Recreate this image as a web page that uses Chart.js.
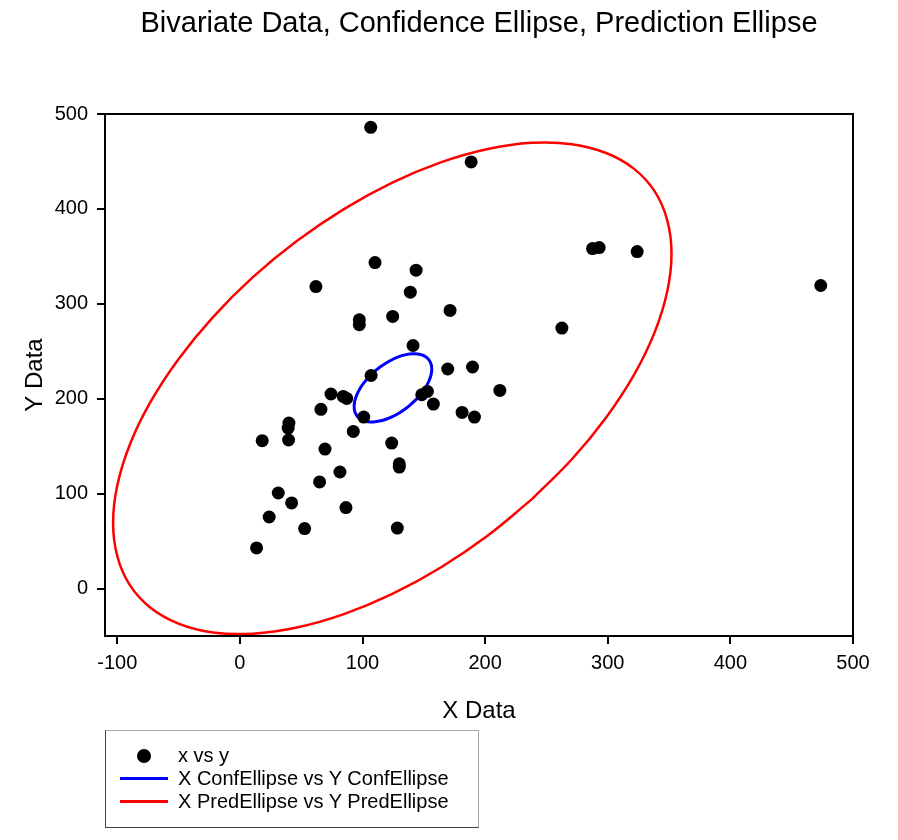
<!DOCTYPE html>
<html>
<head>
<meta charset="utf-8">
<script src="https://cdn.jsdelivr.net/npm/chart.js@4"></script>
<style>
  html, body { margin:0; padding:0; background:#fff; }
  #wrap { position:relative; width:898px; height:840px; }
  #c { position:absolute; left:0; top:0; }
  #legend { position:absolute; left:105px; top:730px; width:374px; height:98px; box-sizing:border-box;
    border-top:1px solid #a8a8a8; border-right:1px solid #a8a8a8; border-left:1px solid #404040; border-bottom:1px solid #404040;
    font-family:'Liberation Sans', Arial, sans-serif; font-size:20px; color:#000; }
  .row { position:absolute; left:0; height:23px; line-height:23px; white-space:nowrap; }
  .sym { position:absolute; left:14px; width:48px; height:23px; }
  .txt { position:absolute; left:72px; top:0; }
</style>
</head>
<body>
<div id="wrap">
  <canvas id="c" width="898" height="840"></canvas>
  <div id="legend"></div>
</div>
<script>
// ---- data ----
const xData = [106.7, 188.6, 287.6, 293.0, 324.0, 473.7, 110.2, 143.7, 62.0, 139.0, 97.4, 97.4, 124.6, 171.4, 262.6, 141.2,
  189.7, 169.5, 107.0, 74.3, 84.3, 87.1, 148.3, 152.9, 157.8, 212.0, 181.2, 191.3, 101.0, 66.1, 40.0, 39.4, 92.5, 18.2,
  39.7, 123.8, 69.4, 130.0, 130.0, 81.6, 65.0, 31.3, 42.2, 86.5, 23.9, 52.8, 128.4, 13.6];
const yData = [486.0, 449.5, 358.2, 359.3, 355.0, 319.3, 343.5, 335.4, 318.2, 312.3, 283.2, 278.0, 286.7, 293.0, 274.4, 256.1,
  233.4, 231.3, 224.5, 205.0, 202.4, 200.3, 204.2, 207.7, 194.4, 208.7, 185.6, 180.7, 180.7, 188.8, 174.4, 169.1, 165.6, 155.8,
  156.5, 153.3, 147.0, 131.5, 128.0, 122.8, 112.3, 100.7, 90.2, 85.3, 75.4, 63.2, 63.7, 42.8];

// confidence ellipse outline (blue), points traced around the curve
const confX = [140.6, 135.6, 130.3, 124.8, 119.3, 114.0, 109.0, 104.5, 100.6, 97.4, 95.1, 93.6, 93.2, 93.6, 95.1, 97.4,
  100.6, 104.5, 109.0, 114.0, 119.3, 124.8, 130.3, 135.6, 140.6, 145.1, 149.0, 152.2, 154.5, 156.0, 156.5, 156.0,
  154.5, 152.2, 149.0, 145.1, 140.6];
const confY = [195.3, 189.9, 185.3, 181.4, 178.4, 176.5, 175.6, 175.8, 177.0, 179.4, 182.7, 186.9, 191.8, 197.3, 203.3, 209.5,
  215.8, 221.9, 227.7, 233.1, 237.7, 241.6, 244.6, 246.5, 247.4, 247.2, 246.0, 243.6, 240.3, 236.1, 231.2, 225.7,
  219.7, 213.5, 207.2, 201.1, 195.3];

// prediction ellipse outline (red), points traced around the curve
const predX = [238.2, 202.2, 163.8, 124.3, 84.8, 46.4, 10.4, -22.1, -50.1, -72.9, -89.7, -99.9, -103.4, -99.9, -89.7, -72.9,
  -50.1, -22.1, 10.4, 46.4, 84.8, 124.3, 163.8, 202.2, 238.2, 270.7, 298.7, 321.5, 338.3, 348.5, 352.0, 348.5,
  338.3, 321.5, 298.7, 270.7, 238.2];
const predY = [94.2, 55.9, 22.2, -5.7, -27.0, -41.1, -47.6, -46.2, -36.9, -20.2, 3.6, 33.8, 69.2, 109.0, 151.8, 196.6,
  241.7, 285.8, 327.8, 366.1, 399.8, 427.7, 449.0, 463.1, 469.6, 468.2, 458.9, 442.2, 418.4, 388.2, 352.8, 313.0,
  270.2, 225.4, 180.3, 136.2, 94.2];

const xTicks = [-100, 0, 100, 200, 300, 400, 500];
const yTicks = [0, 100, 200, 300, 400, 500];

const seriesNames = ['x vs y', 'X ConfEllipse vs Y ConfEllipse', 'X PredEllipse vs Y PredEllipse'];
const chartTitle = 'Bivariate Data, Confidence Ellipse, Prediction Ellipse';

const pts = (xs, ys) => xs.map((x, i) => ({x: x, y: ys[i]}));
const FONT = "'Liberation Sans', Arial, sans-serif";

const framePlugin = {
  id: 'frame',
  afterDraw(chart) {
    const a = chart.chartArea, ctx = chart.ctx;
    ctx.save();
    ctx.strokeStyle = '#000';
    ctx.lineWidth = 2;
    ctx.strokeRect(a.left, a.top, a.right - a.left, a.bottom - a.top);
    ctx.restore();
  }
};

const chart = new Chart(document.getElementById('c'), {
  type: 'scatter',
  data: {
    datasets: [
      { label: seriesNames[0], data: pts(xData, yData), showLine: false,
        pointRadius: 6.5, pointBackgroundColor: '#000', pointBorderColor: '#000', pointBorderWidth: 0, order: 0 },
      { label: seriesNames[1], data: pts(confX, confY), showLine: true, tension: 0.4,
        borderColor: '#0000ff', borderWidth: 3, pointRadius: 0, fill: false, order: 1 },
      { label: seriesNames[2], data: pts(predX, predY), showLine: true, tension: 0.4,
        borderColor: '#ff0000', borderWidth: 2.5, pointRadius: 0, fill: false, order: 2 }
    ]
  },
  options: {
    responsive: false,
    animation: false,
    layout: { padding: { left: 0, right: 45, top: 0, bottom: 104 } },
    plugins: {
      legend: { display: false },
      tooltip: { enabled: false },
      title: { display: true, fullSize: false, text: chartTitle, color: '#000',
        font: { family: FONT, size: 29, weight: 'normal' }, padding: { top: 7, bottom: 72.2 } }
    },
    scales: {
      x: {
        type: 'linear', position: 'bottom', min: -110, max: 500,
        afterBuildTicks: s => { s.ticks = xTicks.map(v => ({ value: v })); },
        afterFit: s => { s.height = 100; },
        grid: { drawOnChartArea: false, drawTicks: true, tickLength: 8, color: '#000', lineWidth: 2 },
        border: { display: true, color: '#000', width: 2 },
        ticks: { color: '#000', font: { family: FONT, size: 20 }, padding: 7, maxRotation: 0 },
        title: { display: true, text: 'X Data', color: '#000', font: { family: FONT, size: 24 }, padding: { top: 0, bottom: 10.6 } }
      },
      y: {
        type: 'linear', position: 'left', min: -50, max: 500,
        afterBuildTicks: s => { s.ticks = yTicks.map(v => ({ value: v })); },
        afterFit: s => { s.width = 105; },
        grid: { drawOnChartArea: false, drawTicks: true, tickLength: 8, color: '#000', lineWidth: 2 },
        border: { display: true, color: '#000', width: 2 },
        ticks: { color: '#000', font: { family: FONT, size: 20 }, padding: 9 },
        title: { display: true, text: 'Y Data', color: '#000', font: { family: FONT, size: 24 }, padding: { top: 20.6, bottom: 0 } }
      }
    }
  },
  plugins: [framePlugin]
});

// HTML legend built from the chart's datasets
const lg = document.getElementById('legend');
chart.data.datasets.forEach((ds, i) => {
  const row = document.createElement('div');
  row.className = 'row';
  row.style.top = (13 + i * 23) + 'px';
  const sym = document.createElement('div');
  sym.className = 'sym';
  if (i === 0) {
    const dot = document.createElement('div');
    dot.style.cssText = 'position:absolute;left:17px;top:5px;width:14px;height:14px;border-radius:50%;background:#000;';
    sym.appendChild(dot);
  } else {
    const ln = document.createElement('div');
    ln.style.cssText = 'position:absolute;left:0;top:10px;width:48px;height:3px;background:' + ds.borderColor + ';';
    sym.appendChild(ln);
  }
  const t = document.createElement('span');
  t.className = 'txt';
  t.textContent = ds.label;
  row.appendChild(sym);
  row.appendChild(t);
  lg.appendChild(row);
});
</script>
</body>
</html>
